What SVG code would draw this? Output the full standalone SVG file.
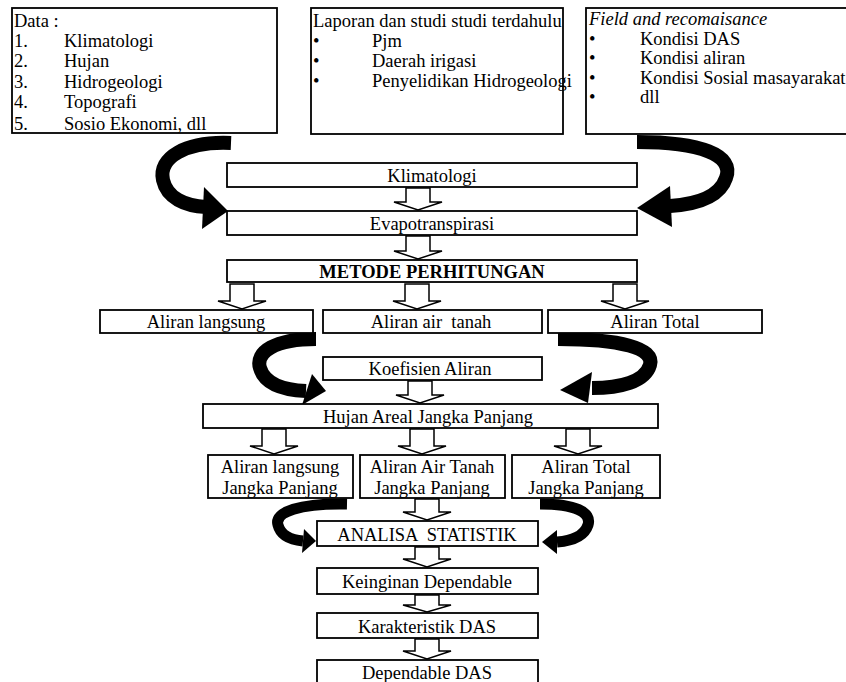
<svg xmlns="http://www.w3.org/2000/svg" width="846" height="682" viewBox="0 0 846 682">
<style>
.bg{fill:#fff}
.box{fill:#fff;stroke:#000;stroke-width:1.8}
.t{font-family:"Liberation Serif","Times New Roman",serif;font-size:18.5px;fill:#000}
.c{text-anchor:middle}
.pre{white-space:pre}
.ha{fill:#fff;stroke:#000;stroke-width:1.5;stroke-linejoin:miter}
.cv{fill:none;stroke:#000;stroke-width:14}
.cvs{fill:none;stroke:#000;stroke-width:11}
.ah{fill:#000}
</style>
<rect class="bg" x="0" y="0" width="846" height="682"/>

<g id="connectors">
  <path class="cv" d="M231,143 C185,141 158,158 163,180 C167,198 185,206 206,207"/>
  <polygon class="ah" points="228,211 204,187 202,229"/>
  <path class="cv" d="M637,142 C700,142 735,155 726,178 C720,196 700,204 670,206"/>
  <polygon class="ah" points="637,208 670,186 672,227"/>
  <path class="cv" d="M316,339 C275,339 255,352 260,368 C265,385 285,390 306,391"/>
  <polygon class="ah" points="326,391 312,374 302,405"/>
  <path class="cv" d="M558,339 C620,339 655,348 650,365 C645,382 620,388 592,388"/>
  <polygon class="ah" points="560,390 592,372 588,403"/>
  <path class="cvs" d="M347,504 C300,503 274,512 278,525 C281,537 292,540 303,541"/>
  <polygon class="ah" points="316,541 304,529 302,553"/>
  <path class="cvs" d="M540,504 C575,504 592,512 588,525 C584,537 570,541 557,542"/>
  <polygon class="ah" points="542,542 557,530 557,554"/>
  <path class="ha" d="M406,188 H430 V202 H442 L418,210 L394,202 H406 Z"/>
  <path class="ha" d="M406,236 H430 V251 H442 L418,259 L394,251 H406 Z"/>
  <path class="ha" d="M230,284 H254 V301 H266 L242,309 L218,301 H230 Z"/>
  <path class="ha" d="M405,284 H429 V301 H441 L417,309 L393,301 H405 Z"/>
  <path class="ha" d="M613,284 H637 V301 H649 L625,309 L601,301 H613 Z"/>
  <path class="ha" d="M408,381 H432 V395 H444 L420,403 L396,395 H408 Z"/>
  <path class="ha" d="M262,429 H286 V446 H298 L274,454 L250,446 H262 Z"/>
  <path class="ha" d="M410,429 H434 V446 H446 L422,454 L398,446 H410 Z"/>
  <path class="ha" d="M566,429 H590 V446 H602 L578,454 L554,446 H566 Z"/>
  <path class="ha" d="M415,499 H439 V512 H451 L427,520 L403,512 H415 Z"/>
  <path class="ha" d="M415,547 H439 V559 H451 L427,567 L403,559 H415 Z"/>
  <path class="ha" d="M415,595 H439 V605 H451 L427,612 L403,605 H415 Z"/>
  <path class="ha" d="M415,639 H439 V651 H451 L427,659 L403,651 H415 Z"/>
</g>

<g id="data">
  <rect class="box" x="12" y="8" width="265" height="125"/>
  <text class="t" x="14" y="27">Data :</text>
  <text class="t" x="14" y="47">1.</text><text class="t" x="64" y="47">Klimatologi</text>
  <text class="t" x="14" y="67">2.</text><text class="t" x="64" y="67">Hujan</text>
  <text class="t" x="14" y="88">3.</text><text class="t" x="64" y="88">Hidrogeologi</text>
  <text class="t" x="14" y="108">4.</text><text class="t" x="64" y="108">Topografi</text>
  <text class="t" x="14" y="130">5.</text><text class="t" x="64" y="130">Sosio Ekonomi, dll</text>
</g>

<g id="laporan">
  <rect class="box" x="311" y="8" width="252" height="126"/>
  <text class="t" x="313" y="27">Laporan dan studi studi terdahulu</text>
  <text class="t" x="313" y="47">•</text><text class="t" x="372" y="47">Pjm</text>
  <text class="t" x="313" y="67">•</text><text class="t" x="372" y="67">Daerah irigasi</text>
  <text class="t" x="313" y="87">•</text><text class="t" x="372" y="87">Penyelidikan Hidrogeologi</text>
</g>

<g id="field">
  <rect class="box" x="586" y="8" width="264" height="126"/>
  <text class="t" x="589" y="25" font-style="italic">Field and recomaisance</text>
  <text class="t" x="589" y="45">•</text><text class="t" x="640" y="45">Kondisi DAS</text>
  <text class="t" x="589" y="64">•</text><text class="t" x="640" y="64">Kondisi aliran</text>
  <text class="t" x="589" y="84">•</text><text class="t" x="640" y="84">Kondisi Sosial masayarakat</text>
  <text class="t" x="589" y="103">•</text><text class="t" x="640" y="103">dll</text>
</g>

<g id="klimatologi">
  <rect class="box" x="227" y="163" width="410" height="24"/>
  <text class="t c" x="432" y="182">Klimatologi</text>
</g>
<g id="evapotranspirasi">
  <rect class="box" x="227" y="211" width="410" height="24"/>
  <text class="t c" x="432" y="230">Evapotranspirasi</text>
</g>
<g id="metode">
  <rect class="box" x="227" y="260" width="410" height="22"/>
  <text class="t c" x="432" y="278" font-weight="bold">METODE PERHITUNGAN</text>
</g>
<g id="aliran-langsung">
  <rect class="box" x="100" y="310" width="213" height="23"/>
  <text class="t c" x="206" y="328">Aliran langsung</text>
</g>
<g id="aliran-air-tanah">
  <rect class="box" x="323" y="310" width="219" height="23"/>
  <text class="t c pre" x="431" y="328">Aliran air  tanah</text>
</g>
<g id="aliran-total">
  <rect class="box" x="548" y="310" width="214" height="23"/>
  <text class="t c" x="655" y="328">Aliran Total</text>
</g>
<g id="koefisien">
  <rect class="box" x="323" y="357" width="219" height="23"/>
  <text class="t c" x="430" y="375">Koefisien Aliran</text>
</g>
<g id="hujan-areal">
  <rect class="box" x="203" y="404" width="455" height="24"/>
  <text class="t c" x="428" y="423">Hujan Areal Jangka Panjang</text>
</g>
<g id="jp-langsung">
  <rect class="box" x="208" y="455" width="145" height="43"/>
  <text class="t c" x="280" y="473">Aliran langsung</text>
  <text class="t c" x="280" y="494">Jangka Panjang</text>
</g>
<g id="jp-air-tanah">
  <rect class="box" x="360" y="455" width="145" height="43"/>
  <text class="t c" x="432" y="473">Aliran Air Tanah</text>
  <text class="t c" x="432" y="494">Jangka Panjang</text>
</g>
<g id="jp-total">
  <rect class="box" x="512" y="455" width="148" height="43"/>
  <text class="t c" x="586" y="473">Aliran Total</text>
  <text class="t c" x="586" y="494">Jangka Panjang</text>
</g>
<g id="analisa">
  <rect class="box" x="317" y="521" width="221" height="25"/>
  <text class="t c pre" x="427" y="541">ANALISA  STATISTIK</text>
</g>
<g id="keinginan">
  <rect class="box" x="317" y="568" width="221" height="26"/>
  <text class="t c" x="427" y="588">Keinginan Dependable</text>
</g>
<g id="karakteristik">
  <rect class="box" x="317" y="613" width="221" height="25"/>
  <text class="t c" x="427" y="633">Karakteristik DAS</text>
</g>
<g id="dependable">
  <rect class="box" x="317" y="660" width="221" height="24"/>
  <text class="t c" x="427" y="679">Dependable DAS</text>
</g>
</svg>
